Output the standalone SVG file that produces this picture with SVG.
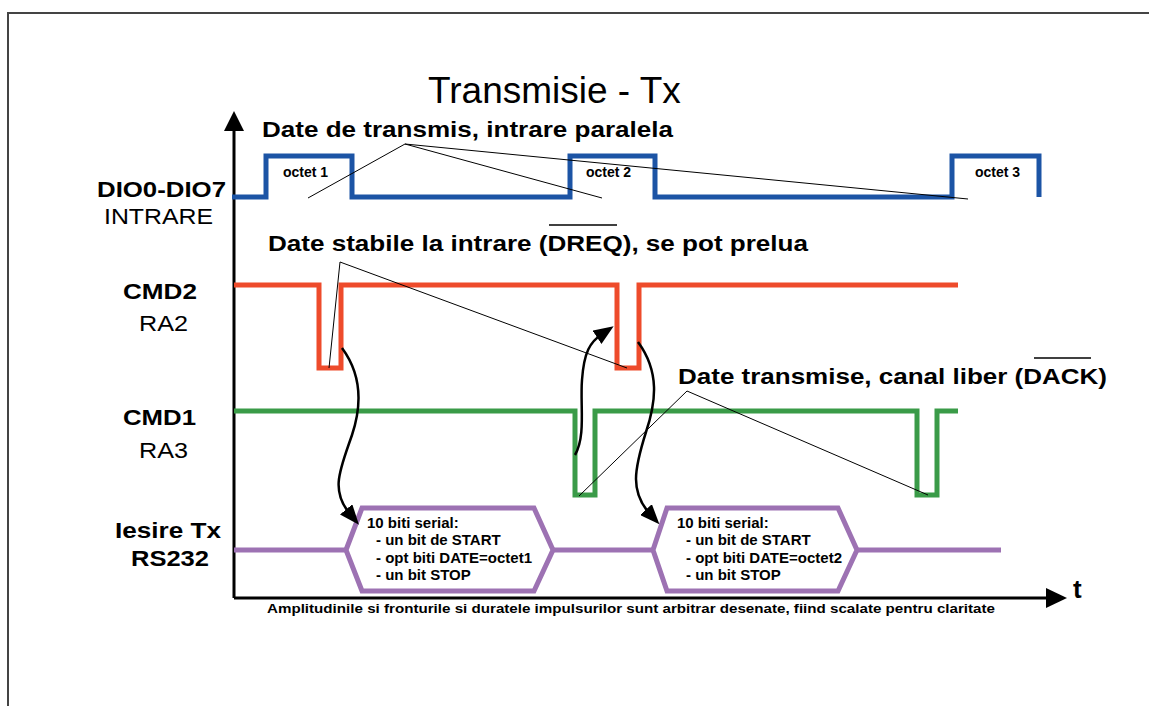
<svg xmlns="http://www.w3.org/2000/svg" width="1149" height="706" viewBox="0 0 1149 706">
<style>
text{font-family:"Liberation Sans",Arial,sans-serif;fill:#000}
.b{font-weight:bold}
.lbl{font-size:22.5px}
.sig{fill:none;stroke-width:5;stroke-linejoin:miter;stroke-linecap:butt}
.blue{stroke:#1c54a5}
.red{stroke:#ee4b2b}
.green{stroke:#3a9b48}
.purple{stroke:#9d72b3}
.lead{fill:none;stroke:#000;stroke-width:1}
.curve{fill:none;stroke:#000;stroke-width:2.5}
.oct{font-size:14px;font-weight:bold}
.hx{font-size:15px;font-weight:bold}
</style>
<defs>
<marker id="ah" markerUnits="userSpaceOnUse" viewBox="0 0 20 16" markerWidth="20" markerHeight="16" refX="6" refY="8" orient="auto">
<path d="M0,0 L20,8 L0,16 z" fill="#000"/>
</marker>
</defs>
<rect width="1149" height="706" fill="#fff"/>
<g id="border" fill="none" stroke="#444" stroke-width="2">
<path d="M8,706 V13 H1149"/>
</g>
<g id="title"><text x="428" y="103" font-size="37">Transmisie - Tx</text></g>
<g id="axes">
<path d="M234,598 V128" stroke="#000" stroke-width="3" fill="none"/>
<path d="M224,131 L234,111 L244,131 z" fill="#000"/>
<path d="M234,598 H1050" stroke="#000" stroke-width="3" fill="none"/>
<path d="M1046,588 L1067,598 L1046,608 z" fill="#000"/>
<text x="1073" y="598" class="b" font-size="26">t</text>
</g>
<g id="dio">
<text x="97" y="197" class="b lbl" textLength="129" lengthAdjust="spacingAndGlyphs">DIO0-DIO7</text>
<text x="104" y="224" class="lbl" textLength="109" lengthAdjust="spacingAndGlyphs">INTRARE</text>
<path class="sig blue" d="M232,197 H266 V156 H352 V197 H570 V156 H655 V197 H952 V156 H1039 V197"/>
<text x="283" y="177" class="oct">octet 1</text>
<text x="586" y="177" class="oct">octet 2</text>
<text x="975" y="177" class="oct">octet 3</text>
</g>
<g id="cmd2">
<text x="123" y="299" class="b lbl" textLength="74" lengthAdjust="spacingAndGlyphs">CMD2</text>
<text x="139" y="331" class="lbl" textLength="49" lengthAdjust="spacingAndGlyphs">RA2</text>
<path class="sig red" d="M234,285 H319 V368 H341 V285 H617 V368 H639 V285 H958"/>
</g>
<g id="cmd1">
<text x="123" y="425" class="b lbl" textLength="73" lengthAdjust="spacingAndGlyphs">CMD1</text>
<text x="139" y="458" class="lbl" textLength="49" lengthAdjust="spacingAndGlyphs">RA3</text>
<path class="sig green" d="M234,411 H575 V495 H595 V411 H917 V495 H937 V411 H958"/>
</g>
<g id="tx">
<text x="115" y="538" class="b lbl" textLength="106" lengthAdjust="spacingAndGlyphs">Iesire Tx</text>
<text x="131" y="566" class="b lbl" textLength="78" lengthAdjust="spacingAndGlyphs">RS232</text>
<path class="sig purple" d="M234,550 H346 M553,550 H653 M857,550 H1001"/>
</g>
<g id="frame1">
<path class="sig purple" d="M346,550 L362,508 H534 L553,550 L534,591 H362 z"/>
<text x="367" y="528" class="hx">10 biti serial:</text>
<text x="376" y="545" class="hx">- un bit de START</text>
<text x="376" y="563" class="hx">- opt biti DATE=octet1</text>
<text x="376" y="580" class="hx">- un bit STOP</text>
</g>
<g id="frame2">
<path class="sig purple" d="M653,550 L667,508 H838 L857,550 L838,591 H667 z"/>
<text x="677" y="528" class="hx">10 biti serial:</text>
<text x="686" y="545" class="hx">- un bit de START</text>
<text x="686" y="563" class="hx">- opt biti DATE=octet2</text>
<text x="686" y="580" class="hx">- un bit STOP</text>
</g>
<g id="note-parallel">
<text x="262" y="137" class="b lbl" textLength="411" lengthAdjust="spacingAndGlyphs">Date de transmis, intrare paralela</text>
</g>
<g id="note-dreq">
<text x="268" y="251" class="b lbl" textLength="540" lengthAdjust="spacingAndGlyphs">Date stabile la intrare (DREQ), se pot prelua</text>
<path d="M549,225 H617" stroke="#000" stroke-width="1.5"/>
</g>
<g id="note-dack">
<text x="678" y="384" class="b lbl" textLength="429" lengthAdjust="spacingAndGlyphs">Date transmise, canal liber (DACK)</text>
<path d="M1034,358 H1091" stroke="#000" stroke-width="1.5"/>
</g>
<g id="caption">
<text x="267" y="613" class="b" font-size="13.5" textLength="728" lengthAdjust="spacingAndGlyphs">Amplitudinile si fronturile si duratele impulsurilor sunt arbitrar desenate, fiind scalate pentru claritate</text>
</g>
<g id="connectors">
<path class="lead" d="M308,198 L405,144 L602,198 M405,144 L968,199"/>
<path class="lead" d="M329,368 L340,262 L627,368"/>
<path class="lead" d="M579,496 L687,391 L928,495"/>
<path class="curve" marker-end="url(#ah)" d="M342,348 C362,375 362,405 352,435 C340,470 330,490 350,514"/>
<path class="curve" marker-end="url(#ah)" d="M575,455 C586,436 580,405 582,380 C584,352 590,342 602,334"/>
<path class="curve" marker-end="url(#ah)" d="M638,342 C660,372 656,402 646,432 C634,470 630,492 650,514"/>
</g>
</svg>
